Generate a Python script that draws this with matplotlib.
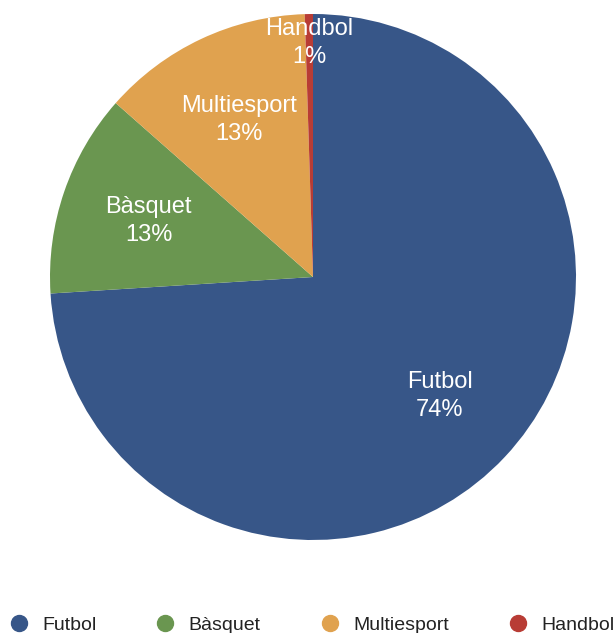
import numpy as np
import matplotlib
matplotlib.use("Agg")
import matplotlib.pyplot as plt
from matplotlib.lines import Line2D

categories = ["Futbol", "Bàsquet", "Multiesport", "Handbol"]
values = [148, 25, 26, 1]
pct_labels = ["74%", "13%", "13%", "1%"]
colors = ["#375688", "#6a9650", "#e0a24f", "#b83c35"]

plt.rcParams['font.family'] = ['Liberation Sans', 'DejaVu Sans']

W, H = 616, 633
fig = plt.figure(figsize=(W / 100, H / 100), dpi=100)
cx, cy, r = 313, 277, 263
ax = fig.add_axes([(cx - r) / W, 1 - (cy + r) / H, 2 * r / W, 2 * r / H])

labels = [f"{c}\n{p}" for c, p in zip(categories, pct_labels)]
wedges, texts = ax.pie(values, colors=colors, startangle=90, counterclock=False,
                       labels=labels, labeldistance=0.66,
                       textprops=dict(color="white", fontsize=17, ha="center",
                                      va="center", linespacing=1.38),
                       wedgeprops=dict(linewidth=0))
# small slice label pushed outward near the rim
w = wedges[3]
ang = np.deg2rad((w.theta1 + w.theta2) / 2)
texts[3].set_position((0.89 * np.cos(ang), 0.89 * np.sin(ang)))
ax.set_xlim(-1, 1)
ax.set_ylim(-1, 1)
ax.set_aspect("equal")
ax.axis("off")

handles = [Line2D([], [], marker="o", linestyle="none", markersize=11.5,
                  markerfacecolor=c, markeredgecolor=c) for c in colors]
fig.legend(handles, categories, loc="center left",
           bbox_to_anchor=(11 / W, 1 - 625 / H), ncol=4, frameon=False,
           fontsize=14, handlelength=0.8, handletextpad=0.8,
           columnspacing=3.15, borderpad=0, borderaxespad=0,
           labelcolor="#222222")

fig.savefig("out.png", dpi=100)
